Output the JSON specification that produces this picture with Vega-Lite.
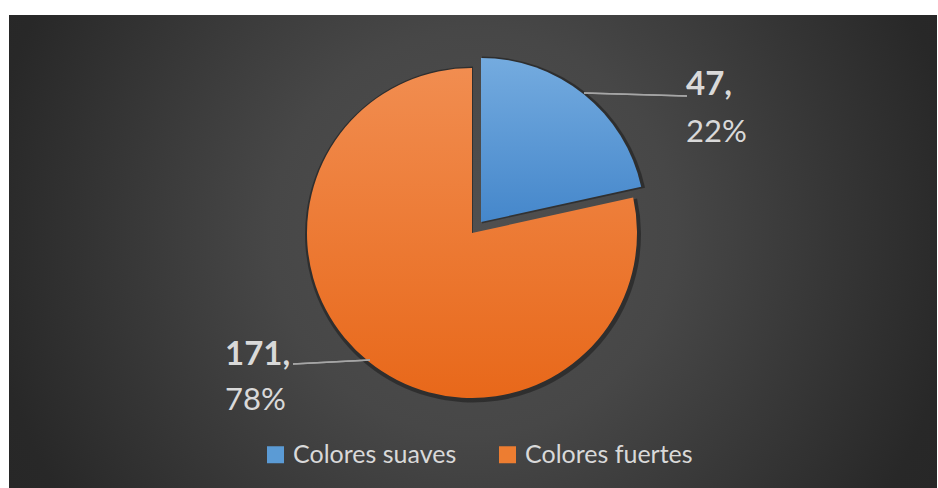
{
  "$schema": "https://vega.github.io/schema/vega-lite/v6.json",
  "width": 938,
  "height": 488,
  "autosize": {"type": "fit", "contains": "padding"},
  "padding": {"left": 9, "top": 15, "right": 1, "bottom": 0},
  "background": "#ffffff",
  "config": {
    "view": {
      "stroke": null,
      "fill": {
        "gradient": "radial",
        "x1": 0.5, "y1": 0.48, "r1": 0,
        "x2": 0.5, "y2": 0.48, "r2": 0.62,
        "stops": [
          {"offset": 0, "color": "#505050"},
          {"offset": 0.35, "color": "#474747"},
          {"offset": 0.85, "color": "#282828"},
          {"offset": 1, "color": "#262626"}
        ]
      }
    },
    "font": "Lato"
  },
  "data": {
    "values": [
      {"category": "Colores suaves", "value": 47, "pct": 22},
      {"category": "Colores fuertes", "value": 171, "pct": 78}
    ]
  },
  "layer": [
    {
      "mark": {"type": "square", "size": 0, "opacity": 1},
      "encoding": {
        "color": {
          "field": "category",
          "type": "nominal",
          "scale": {
            "domain": ["Colores suaves", "Colores fuertes"],
            "range": ["#5b9bd5", "#ed7d31"]
          },
          "legend": {
            "orient": "none",
            "legendX": 254,
            "legendY": 427,
            "direction": "horizontal",
            "title": null,
            "symbolType": "square",
            "symbolSize": 289,
            "symbolStrokeWidth": 0,
            "symbolOpacity": 1,
            "labelFont": "Lato",
            "labelFontSize": 25,
            "labelColor": "#d9d9d9",
            "labelLimit": 400,
            "labelOffset": 5,
            "columnPadding": 38,
            "padding": 0,
            "encode": {
              "symbols": {
                "update": {
                  "fill": {"signal": "datum.value === 'Colores suaves' ? {gradient: 'linear', x1: 0, y1: 0, x2: 0, y2: 1, stops: [{offset: 0, color: '#74abdf'}, {offset: 1, color: '#4587cb'}]} : {gradient: 'linear', x1: 0, y1: 0, x2: 0, y2: 1, stops: [{offset: 0, color: '#f18d50'}, {offset: 1, color: '#e8681a'}]}"}
                }
              }
            }
          }
        }
      }
    },
    {
      "mark": {
        "type": "arc",
        "stroke": null,
        "fill": "#000000",
        "opacity": 0.35,
        "outerRadius": {"expr": "datum.category === 'Colores suaves' ? 167 : 168"},
        "xOffset": {"expr": "datum.category === 'Colores suaves' ? 9 : 0"},
        "yOffset": {"expr": "datum.category === 'Colores suaves' ? -28 : -17"}
      },
      "encoding": {
        "theta": {"field": "value", "type": "quantitative", "stack": true},
        "order": {"field": "category", "sort": "descending"}
      }
    },
    {
      "mark": {
        "type": "arc",
        "stroke": null,
        "fill": {"expr": "datum.category === 'Colores suaves' ? {gradient: 'linear', x1: 0, y1: 0, x2: 0, y2: 1, stops: [{offset: 0, color: '#74abdf'}, {offset: 1, color: '#4587cb'}]} : {gradient: 'linear', x1: 0, y1: 0, x2: 0, y2: 1, stops: [{offset: 0, color: '#f18d50'}, {offset: 1, color: '#e8681a'}]}"},
        "outerRadius": {"expr": "datum.category === 'Colores suaves' ? 164 : 165"},
        "xOffset": {"expr": "datum.category === 'Colores suaves' ? 8 : -1"},
        "yOffset": {"expr": "datum.category === 'Colores suaves' ? -29.5 : -18.5"}
      },
      "encoding": {
        "theta": {"field": "value", "type": "quantitative", "stack": true},
        "order": {"field": "category", "sort": "descending"}
      }
    },
    {
      "mark": {"type": "rule", "stroke": "#a6a6a6", "strokeWidth": 1.5},
      "encoding": {
        "x": {"value": 575}, "x2": {"value": 678},
        "y": {"value": 78}, "y2": {"value": 81}
      }
    },
    {
      "mark": {"type": "rule", "stroke": "#a6a6a6", "strokeWidth": 1.5},
      "encoding": {
        "x": {"value": 284}, "x2": {"value": 361},
        "y": {"value": 349}, "y2": {"value": 345}
      }
    },
    {
      "transform": [{"filter": "datum.category === 'Colores suaves'"}],
      "mark": {"type": "text", "align": "left", "baseline": "alphabetic", "dx": 213, "dy": -156.5, "font": "Lato", "fontSize": 33, "fontWeight": "bold", "fill": "#d9d9d9", "text": {"expr": "datum.value + ','"}},
      "encoding": {}
    },
    {
      "transform": [{"filter": "datum.category === 'Colores suaves'"}],
      "mark": {"type": "text", "align": "left", "baseline": "alphabetic", "dx": 213, "dy": -109.5, "font": "Lato", "fontSize": 31, "fill": "#d9d9d9", "text": {"expr": "datum.pct + '%'"}},
      "encoding": {}
    },
    {
      "transform": [{"filter": "datum.category === 'Colores fuertes'"}],
      "mark": {"type": "text", "align": "left", "baseline": "alphabetic", "dx": -248, "dy": 113.5, "font": "Lato", "fontSize": 33, "fontWeight": "bold", "fill": "#d9d9d9", "text": {"expr": "datum.value + ','"}},
      "encoding": {}
    },
    {
      "transform": [{"filter": "datum.category === 'Colores fuertes'"}],
      "mark": {"type": "text", "align": "left", "baseline": "alphabetic", "dx": -248, "dy": 158.5, "font": "Lato", "fontSize": 31, "fill": "#d9d9d9", "text": {"expr": "datum.pct + '%'"}},
      "encoding": {}
    }
  ]
}
